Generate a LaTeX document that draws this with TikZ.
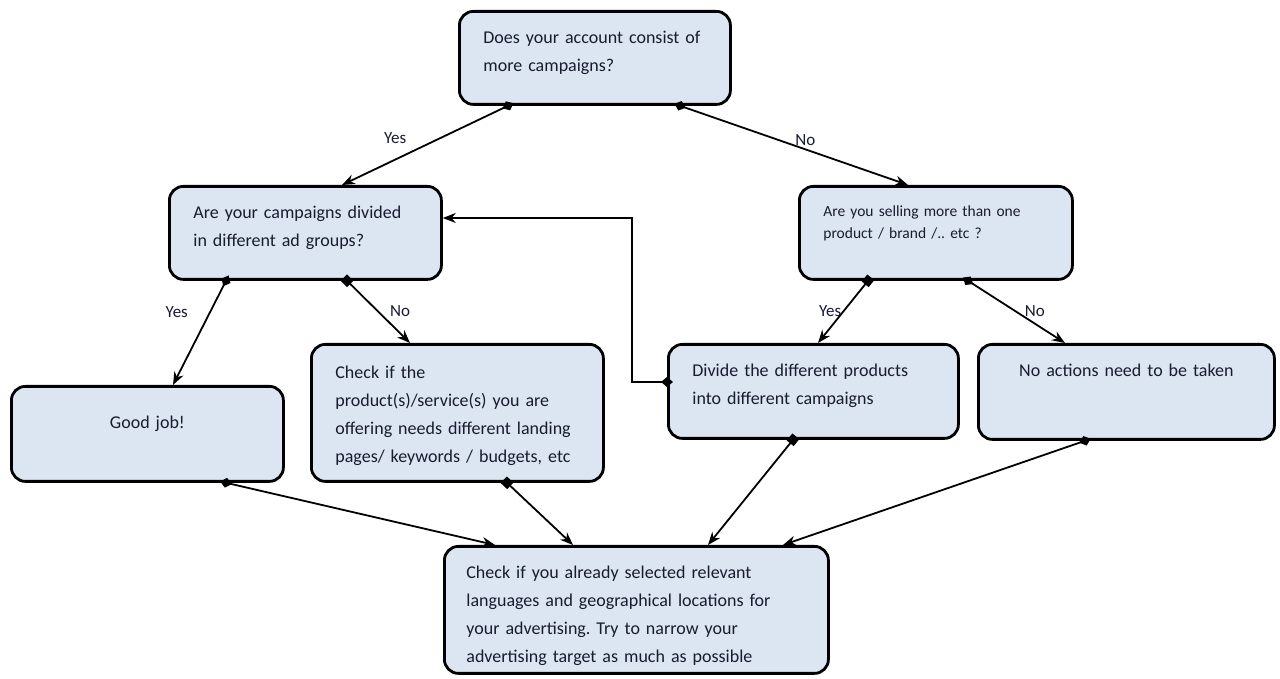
\documentclass[tikz,border=0pt]{standalone}
\usepackage{fontspec}
\setmainfont{Carlito}
\frenchspacing
\usetikzlibrary{arrows.meta}
\usetikzlibrary{positioning}
\definecolor{boxfill}{RGB}{220,230,242}
\definecolor{boxtext}{RGB}{25,27,48}

\begin{document}
\begin{tikzpicture}[x=1pt,y=1pt,>={Stealth[length=13pt,width=10pt]},
  box/.style={draw,line width=2.8pt,rounded corners=14pt,fill=boxfill,text=boxtext,anchor=north west,inner xsep=24pt,inner ysep=0pt,align=left,font=\fontsize{18}{28}\selectfont},
  small box/.style={box,font=\fontsize{15.5}{22}\selectfont},
  link/.style={line width=1.8pt},
  sq link/.style={link,shorten <=-4.5pt,{Square[length=9pt,width=9pt]}->},
  dia link/.style={link,shorten <=-6pt,{Diamond[length=12pt,width=10pt]}->},
  answer/.style={font=\fontsize{17}{20}\selectfont,text=boxtext}]

	      \useasboundingbox (0,0) rectangle (1280,679);

	      % questions
	      \node[box,text width=223pt,text height=32pt,text depth=61pt] at (458,669) (q1) {Does your account consist of\\more campaigns?};
	      \node[box,text width=224pt,text height=32pt,text depth=61pt] at (168,494) (q2) {Are your campaigns divided\\in different ad groups?};
	      \node[small box,text width=225pt,text height=30pt,text depth=63pt] at (798,494) (q3) {Are you selling more than one\\product / brand /.. etc ?};

	      % answers
	      \node[box,align=center,text width=224pt,text height=42pt,text depth=53pt] at (10,294) (good) {Good job!};
	      \node[box,text width=244pt,text height=34pt,text depth=103pt] at (310,336) (check) {Check if the\\product(s)/service(s) you are\\offering needs different landing\\pages/ keywords / budgets, etc};
	      \node[box,text width=242pt,text height=32pt,text depth=62pt] at (667,336) (divide) {Divide the different products\\into different campaigns};
	      \node[box,align=center,text width=248pt,text height=32pt,text depth=63pt] at (977,336) (noact) {No actions need to be taken};
	      \node[box,inner xsep=22pt,text width=340pt,text height=32pt,text depth=95pt] at (443,134) (final) {Check if you already selected relevant\\languages and geographical locations for\\your advertising. Try to narrow your\\advertising target as much as possible};

	      \draw[dia link] ([xshift=50pt]q1.south west) -- node[answer,pos=0.68,above=12pt] (yes1) {Yes} ([xshift=174pt]q2.north west);
	      \draw[dia link] ([xshift=222pt]q1.south west) -- node[answer,pos=0.55,above=0pt] (no1) {No} ([xshift=110pt]q3.north west);
	      \draw[dia link] ([xshift=58pt]q2.south west) -- node[answer,pos=0.3,left=18pt] (yes2) {Yes} ([xshift=163pt]good.north west);
	      \draw[sq link] ([xshift=179pt]q2.south west) -- node[answer,pos=0.49,right=8pt] (no2) {No} ([xshift=100pt]check.north west);
	      \draw[sq link] ([xshift=70pt]q3.south west) -- node[answer,pos=0.49,left=-2pt] (yes3) {Yes} ([xshift=151pt]divide.north west);
	      \draw[dia link] ([xshift=170pt]q3.south west) -- node[answer,pos=0.49,right=5pt] (no3) {No} ([xshift=88pt]noact.north west);
	      \draw[dia link] ([yshift=-39pt]divide.north west) -- ++(-35,0) |- ([yshift=-33pt]q2.north east);

	      % everything ends in the final check
	      \draw[dia link] ([xshift=216pt]good.south west) -- ([xshift=52pt]final.north west);
	      \draw[sq link] ([xshift=197pt]check.south west) -- ([xshift=130pt]final.north west);
	      \draw[sq link] ([xshift=126pt]divide.south west) -- ([xshift=265pt]final.north west);
	      \draw[dia link] ([xshift=108pt]noact.south west) -- ([xshift=340pt]final.north west);

\end{tikzpicture}
\end{document}
